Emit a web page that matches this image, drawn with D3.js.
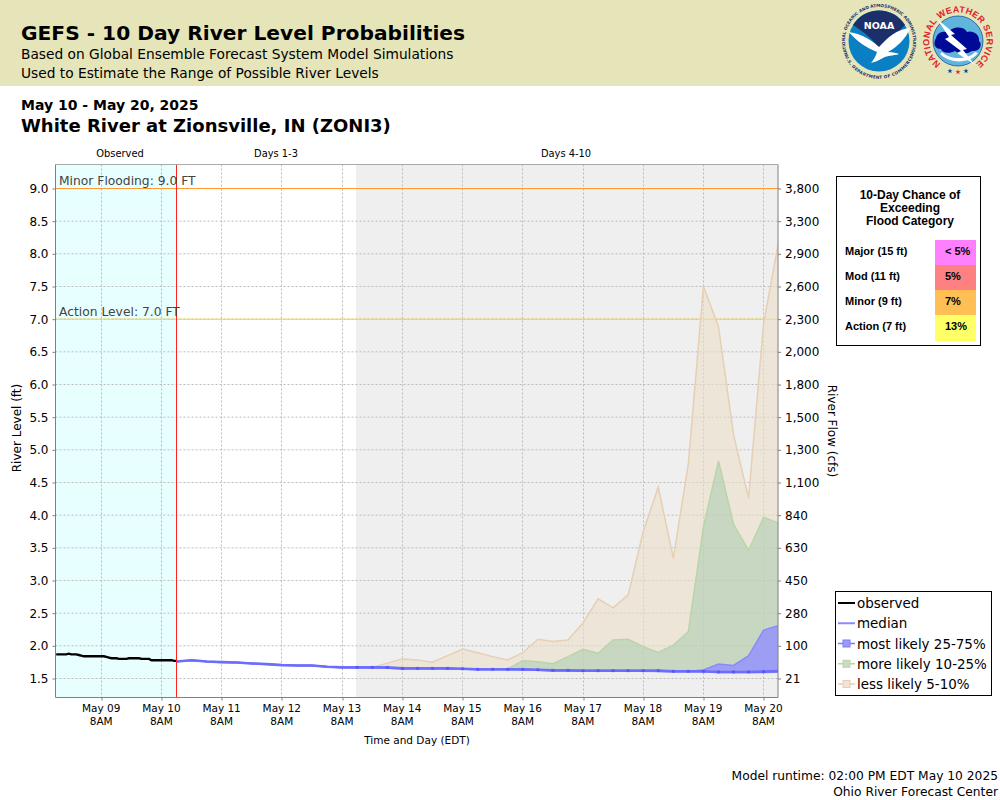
<!DOCTYPE html>
<html><head><meta charset="utf-8">
<script src="https://cdn.jsdelivr.net/npm/d3@7"></script>
<style>
html,body{margin:0;padding:0;background:#fff}
svg{display:block}
text{font-family:"DejaVu Sans",sans-serif;fill:#000}
.arial{font-family:"Liberation Sans",sans-serif;font-weight:bold}
</style></head><body>
<svg id="c" width="1000" height="800"></svg>
<script>
// ---------- data ----------
const obsStart = "2025-05-08T14:00";
const fcstStart = "2025-05-10T14:00";
const xDomain = ["2025-05-08T14:00","2025-05-20T14:00"];
const shadeStart = "2025-05-13T13:40";
const dayTicks = ["05-09","05-10","05-11","05-12","05-13","05-14","05-15","05-16","05-17","05-18","05-19","05-20"];
const dayLabels = ["May 09","May 10","May 11","May 12","May 13","May 14","May 15","May 16","May 17","May 18","May 19","May 20"];
const stageTicks = [1.5,2,2.5,3,3.5,4,4.5,5,5.5,6,6.5,7,7.5,8,8.5,9];
const flowLabels = ["21","100","280","450","630","840","1,100","1,300","1,500","1,800","2,000","2,300","2,600","2,900","3,300","3,800"];
// observed hourly stage, ft
const observed = [1.87,1.87,1.87,1.87,1.87,1.88,1.87,1.87,1.87,1.86,1.85,1.84,1.84,1.84,1.84,1.84,1.84,1.84,1.84,1.84,1.83,1.82,1.81,1.81,1.81,1.80,1.80,1.80,1.80,1.81,1.81,1.81,1.81,1.81,1.80,1.80,1.80,1.80,1.78,1.78,1.78,1.78,1.78,1.78,1.78,1.78,1.78,1.77,1.77];
// forecast 6-hourly, ft
const median = [1.76,1.78,1.76,1.75,1.745,1.73,1.72,1.705,1.70,1.70,1.68,1.67,1.67,1.67,1.67,1.655,1.655,1.655,1.655,1.65,1.64,1.64,1.64,1.64,1.635,1.625,1.625,1.62,1.62,1.62,1.62,1.62,1.62,1.61,1.61,1.61,1.60,1.60,1.60,1.605,1.615];
const p75 = [1.76,1.78,1.76,1.75,1.745,1.73,1.72,1.705,1.70,1.70,1.68,1.67,1.67,1.67,1.67,1.655,1.655,1.655,1.655,1.65,1.64,1.64,1.64,1.64,1.635,1.625,1.625,1.62,1.62,1.62,1.62,1.62,1.62,1.61,1.61,1.63,1.72,1.70,1.85,2.24,2.31];
const p25 = [1.76,1.78,1.76,1.75,1.745,1.73,1.72,1.705,1.70,1.70,1.68,1.67,1.67,1.67,1.66,1.65,1.65,1.65,1.65,1.645,1.64,1.64,1.64,1.635,1.63,1.62,1.62,1.615,1.615,1.615,1.615,1.615,1.61,1.605,1.605,1.605,1.595,1.595,1.595,1.595,1.60];
const p90 = [1.76,1.78,1.76,1.75,1.745,1.73,1.72,1.705,1.70,1.70,1.68,1.67,1.67,1.67,1.67,1.655,1.655,1.655,1.655,1.65,1.64,1.64,1.65,1.77,1.757,1.727,1.835,1.947,1.885,2.09,2.10,1.987,1.90,2.01,2.22,3.82,4.83,3.86,3.46,3.97,3.875];
const p95 = [1.76,1.78,1.76,1.75,1.745,1.73,1.72,1.705,1.70,1.70,1.68,1.67,1.67,1.67,1.735,1.80,1.785,1.75,1.85,1.95,1.895,1.835,1.785,1.895,2.10,2.065,2.09,2.35,2.72,2.58,2.78,3.75,4.43,3.34,4.79,7.50,6.885,5.23,4.26,6.94,8.19];
const p10 = [1.76,1.78,1.76,1.75,1.745,1.73,1.72,1.705,1.70,1.70,1.68,1.67,1.67,1.665,1.655,1.645,1.645,1.645,1.645,1.64,1.635,1.635,1.635,1.63,1.625,1.615,1.61,1.61,1.605,1.60,1.60,1.60,1.60,1.59,1.59,1.59,1.585,1.585,1.585,1.585,1.59];
const p05 = p10.map(v=>v);
const categories = [["Major (15 ft)","< 5%"],["Mod (11 ft)","5%"],["Minor (9 ft)","7%"],["Action (7 ft)","13%"]];
const catColors = ["#ff80ff","#ff8080","#ffbf55","#ffff66"];
const legendLabels = ["observed","median","most likely 25-75%","more likely 10-25%","less likely 5-10%"];

// ---------- scales ----------
const svg = d3.select("#c");
const parse = s => new Date(s);
const L=55.5,R=778,T=164.5,B=697.5;
const x = d3.scaleTime().domain(xDomain.map(parse)).range([56.2,778.7]);
const y = d3.scaleLinear().domain([1.5,9]).range([678.5,188.5]);
const crisp = v => Math.floor(v)+0.5;
const hour = 3600e3;
const obsT = observed.map((_,i)=>new Date(+parse(obsStart)+i*hour));
const fT = median.map((_,i)=>new Date(+parse(fcstStart)+i*6*hour));
const dayT = dayTicks.map(d=>parse("2025-"+d+"T08:00"));

// ---------- header ----------
svg.append("rect").attr("width",1000).attr("height",86).attr("fill","#e5e5b9");
const txt=(s,xx,yy,size,opt={})=>{const t=svg.append("text").attr("x",xx).attr("y",yy).attr("font-size",size).text(s);
  if(opt.b)t.attr("font-weight","bold"); if(opt.a)t.attr("text-anchor",opt.a); if(opt.c)t.style("fill",opt.c); if(opt.cl)t.attr("class",opt.cl); return t;};
txt("GEFS - 10 Day River Level Probabilities",21,40,20.2,{b:1});
txt("Based on Global Ensemble Forecast System Model Simulations",21,59,13.75);
txt("Used to Estimate the Range of Possible River Levels",21,78,13.75);
txt("May 10 - May 20, 2025",21,110,14,{b:1});
txt("White River at Zionsville, IN (ZONI3)",21,132,18,{b:1});

// logos
function noaa(g){
  g.append("path").attr("id","noaaArc").attr("d","M-31,14A34,34 0 1 1 31,14").attr("fill","none");
  g.append("path").attr("id","noaaArc2").attr("d","M-33,9A34,34 0 0 0 33,9").attr("fill","none");
  g.append("circle").attr("r",30.5).attr("fill","#0a7fc4");
  g.append("path").attr("d","M-26,-16A30.5,30.5 0 0 1 26,-16L1,9C-5,-1 -15,-9 -26,-16Z").attr("fill","#1b2f6b");
  g.append("path").attr("d","M-30,-9C-17,-7 -6,0 0,6C8,-3 18,-12 31,-13C27,-2 18,6 9,11C14,11 18,12 20,13C14,15 8,14 2,18C-1,20 -5,21 -8,22C-5,18 -3,15 -2,11C-12,7 -23,0 -30,-9Z").attr("fill","#fff");
  g.append("text").attr("y",-12).attr("text-anchor","middle").attr("font-size",9.5).attr("font-weight","bold").style("fill","#fff").text("NOAA");
  g.append("text").attr("font-size",4.2).attr("font-weight","bold").style("fill","#1b2f6b").append("textPath").attr("href","#noaaArc").attr("startOffset","50%").attr("text-anchor","middle").text("NATIONAL OCEANIC AND ATMOSPHERIC ADMINISTRATION");
  g.append("text").attr("font-size",4.2).attr("font-weight","bold").attr("dy",3).style("fill","#1b2f6b").append("textPath").attr("href","#noaaArc2").attr("startOffset","50%").attr("text-anchor","middle").text("U.S. DEPARTMENT OF COMMERCE");
}
function nws(g){
  g.append("path").attr("id","nwsArc").attr("d","M-13,25.5A28.6,28.6 0 1 1 13,25.5").attr("fill","none");
  g.append("text").attr("class","arial").attr("font-size",9).attr("letter-spacing",0.3).style("fill","#e0202a").append("textPath").attr("href","#nwsArc").attr("startOffset","50%").attr("text-anchor","middle").text("NATIONAL WEATHER SERVICE");
  g.append("circle").attr("r",25).attr("fill","#5fb5dc").attr("stroke","#0a3f90").attr("stroke-width",.7);
  g.append("path").attr("d","M-22,-3C-20,-10 -12,-10 -10,-8C-6,-15 6,-15 9,-9C14,-11 22,-7 21,0C25,3 22,11 14,10C8,14 0,13 -3,10C-8,13 -16,12 -17,8C-24,8 -25,2 -22,-3Z").attr("fill","#000a96");
  g.append("path").attr("d","M-16,11C-8,19 10,19 17,11L20,12C12,23 -8,23 -18,13Z").attr("fill","#fff");
  g.append("path").attr("d","M-21,-22L-3,-7L-7,-6L9,8L5,9L17,24L-1,12L3,10L-13,-2L-9,-4Z").attr("fill","#fff");
  g.selectAll("path.star").data([-8,0,8]).enter().append("path").attr("class","star")
    .attr("d",d3.symbol(d3.symbolStar,9)).attr("transform",d=>`translate(${d},${d===0?31:30})`).attr("fill",d=>d===0?"#e0202a":"#0a3f90");
}
noaa(svg.append("g").attr("transform","translate(879,41)"));
nws(svg.append("g").attr("transform","translate(958,41)"));

// ---------- plot background ----------
const defs=svg.append("defs");
defs.append("clipPath").attr("id","pc").append("rect").attr("x",L).attr("y",T).attr("width",R-L).attr("height",B-T);
const plot=svg.append("g").attr("clip-path","url(#pc)");
plot.append("rect").attr("x",L).attr("y",T).attr("width",crisp(x(parse(fcstStart)))-L).attr("height",B-T).attr("fill","#e8ffff");
plot.append("rect").attr("x",Math.floor(x(parse(shadeStart)))).attr("y",T).attr("width",R-Math.floor(x(parse(shadeStart)))).attr("height",B-T).attr("fill","#efefef");

// grid
plot.selectAll("line.gh").data(stageTicks).enter().append("line").attr("class","gh")
  .attr("x1",L).attr("x2",R).attr("y1",d=>y(d)).attr("y2",d=>y(d))
  .attr("stroke","#bbb").attr("stroke-dasharray","2,2");
plot.selectAll("line.gv").data(dayT).enter().append("line").attr("class","gv")
  .attr("x1",d=>crisp(x(d))).attr("x2",d=>crisp(x(d))).attr("y1",T).attr("y2",B)
  .attr("stroke","#bbb").attr("stroke-dasharray","2,2");

// thresholds
plot.append("line").attr("x1",L).attr("x2",R).attr("y1",y(9)).attr("y2",y(9)).attr("stroke","#ff9a33");
plot.append("line").attr("x1",L).attr("x2",R).attr("y1",y(7)).attr("y2",y(7)).attr("stroke","#f5d040");
txt("Minor Flooding: 9.0 FT",59,185,12.3,{c:"#444"});
txt("Action Level: 7.0 FT",59,316,12.3,{c:"#444"});

// bands
const band=(lo,hi)=>d3.area().x((_,i)=>x(fT[i])).y0((_,i)=>y(lo[i])).y1((_,i)=>y(hi[i]))(median);
const topL=(arr)=>d3.line().x((_,i)=>x(fT[i])).y((_,i)=>y(arr[i]))(median);
const bands=[[p05,p95,"#edddc9",0.6,"#e6cfb3"],[p10,p90,"#afcdb2",0.6,"#b9d5a8"],[p25,p75,"#9290ff",0.8,"#8a8aff"]];
bands.forEach(([lo,hi,c,o,s])=>{
  plot.append("path").attr("d",band(lo,hi)).attr("fill",c).attr("fill-opacity",o);
  plot.append("path").attr("d",topL(hi)).attr("fill","none").attr("stroke",s).attr("stroke-width",1.5);
});
// median + observed
plot.append("path").attr("d",topL(p25)).attr("fill","none").attr("stroke","#6a6aff").attr("stroke-width",2).attr("stroke-opacity",.7);
plot.append("path").attr("d",topL(median)).attr("fill","none").attr("stroke","#6a6aff").attr("stroke-width",2.6).attr("stroke-opacity",.9);
plot.selectAll("rect.mk").data(median.map((v,i)=>[fT[i],v]).slice(12)).enter().append("rect").attr("class","mk")
  .attr("x",d=>x(d[0])-1.5).attr("y",d=>y(d[1])-1.5).attr("width",3).attr("height",3).attr("fill","#4a4aff").attr("fill-opacity",.6);
plot.append("path").attr("d",d3.line().x((_,i)=>x(obsT[i])).y(d=>y(d))(observed)).attr("fill","none").attr("stroke","#000").attr("stroke-width",2.4);
// now line
plot.append("line").attr("x1",crisp(x(parse(fcstStart)))).attr("x2",crisp(x(parse(fcstStart)))).attr("y1",T).attr("y2",B).attr("stroke","#ff2020");

// frame
svg.append("line").attr("x1",L).attr("x2",R).attr("y1",T).attr("y2",T).attr("stroke","#aaa");
const ax=svg.append("g");
const axL=d3.axisLeft(y).tickValues(stageTicks).tickFormat(d3.format(".1f")).tickSize(3).tickPadding(4);
const axR=d3.axisRight(y).tickValues(stageTicks).tickFormat((d,i)=>flowLabels[i]).tickSize(3).tickPadding(4);
const axB=d3.axisBottom(x).tickValues(dayT).tickFormat((d,i)=>dayLabels[i]).tickSize(3).tickPadding(4);
const style=g=>{g.selectAll("path.domain").attr("stroke","#808080");g.selectAll("line").attr("stroke","#808080");};
const gl=ax.append("g").attr("transform",`translate(${L},0)`).call(axL).attr("font-size",12).attr("font-family",null);
const gr=ax.append("g").attr("transform",`translate(${R},0)`).call(axR).attr("font-size",12).attr("font-family",null);
const gb=ax.append("g").attr("transform",`translate(0,${B})`).call(axB).attr("font-size",10.5).attr("font-family",null);
[gl,gr].forEach(g=>g.select("path.domain").attr("d",`M0,${T}V${B}`));
gb.select("path.domain").attr("d",`M${L},0H${R}`);
gb.selectAll(".tick line").attr("x1",d=>crisp(x(d))-x(d)).attr("x2",d=>crisp(x(d))-x(d));
[gl,gr,gb].forEach(style);
gb.selectAll(".tick text").attr("dx",-0.7);
gb.selectAll(".tick").append("text").attr("y",20).attr("dx",-0.7).attr("dy","0.71em").attr("text-anchor","middle").text("8AM");
[gl,gr,gb].forEach(g=>g.selectAll(".tick text").style("fill","#000"));

// section labels & axis titles
txt("Observed",120,157,9.9,{a:"middle"});
txt("Days 1-3",276,157,9.9,{a:"middle"});
txt("Days 4-10",566,157,9.9,{a:"middle"});
txt("River Level (ft)",0,0,12,{a:"middle"}).attr("transform","translate(21,428) rotate(-90)");
txt("River Flow (cfs)",0,0,12,{a:"middle"}).attr("transform","translate(828,431) rotate(90)");
txt("Time and Day (EDT)",417,744,10.5,{a:"middle"});
txt("Model runtime: 02:00 PM EDT May 10 2025",998,780,12.25,{a:"end"});
txt("Ohio River Forecast Center",998,796,12.25,{a:"end"});

// flood category box
svg.append("rect").attr("x",836.5).attr("y",176.5).attr("width",144).attr("height",169).attr("fill","#fff").attr("stroke","#000");
["10-Day Chance of","Exceeding","Flood Category"].forEach((s,i)=>txt(s,910,199+i*13,12,{a:"middle",cl:"arial"}));
const cellY=d3.scaleBand().domain(categories.map(d=>d[0])).range([240,340]);
categories.forEach(([a,b],i)=>{
  svg.append("rect").attr("x",935).attr("y",cellY(a)).attr("width",41).attr("height",cellY.bandwidth()+(i===3?1:0)).attr("fill",catColors[i]);
  txt(a,845,cellY(a)+15,11,{cl:"arial"});
  txt(b,945,cellY(a)+15,11,{cl:"arial"});
});

// legend
svg.append("rect").attr("x",835.5).attr("y",591.5).attr("width",156).attr("height",104).attr("fill","#fff").attr("stroke","#000");
const legY=d3.scalePoint().domain(legendLabels).range([603,684]);
const legC=["#000","#8a8aff","#7a7aff","#b9d5a8","#e6cfb3"];
const legF=["","","#9a9aff","#c8dcc0","#f0e4d6"];
legendLabels.forEach((s,i)=>{
  const yy=legY(s);
  svg.append("line").attr("x1",838).attr("x2",855).attr("y1",yy).attr("y2",yy).attr("stroke",legC[i]).attr("stroke-width",i<2?2:1.5);
  if(i>=2) svg.append("rect").attr("x",843).attr("y",yy-3.5).attr("width",7).attr("height",7).attr("fill",legF[i]).attr("stroke",legC[i]);
  txt(s,857,yy+5,13.45);
});
</script></body></html>
